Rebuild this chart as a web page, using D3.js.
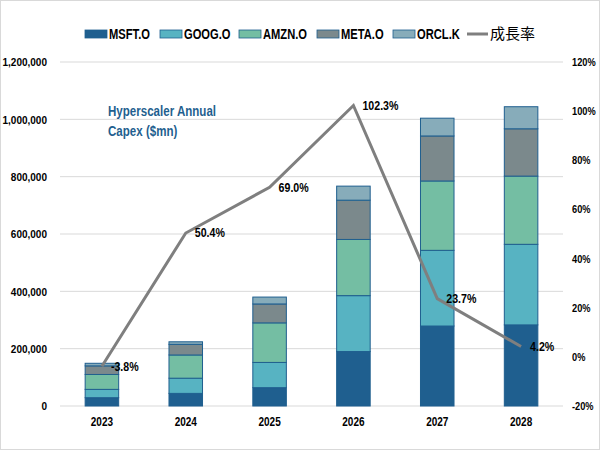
<!DOCTYPE html>
<html lang="ja">
<head>
  <meta charset="UTF-8">
  <title>Hyperscaler Annual Capex</title>
  <script src="https://d3js.org/d3.v7.min.js"></script>
  <style>
    body { margin: 0; background: #fff; }
    svg { display: block; }
    text { font-family: "Liberation Sans", Arial, sans-serif; font-weight: bold; }
    .cjk { font-family: "Noto Sans CJK JP", sans-serif; font-weight: normal; }
  </style>
</head>
<body>
  <svg id="chart" width="600" height="450"></svg>
  <script>
    // Data ($mn)
    const years = ["2023", "2024", "2025", "2026", "2027", "2028"];
    const companies = ["MSFT.O", "GOOG.O", "AMZN.O", "META.O", "ORCL.K"];
    const msft = [29000, 44000, 64000, 190000, 279000, 283000];
    const goog = [29000, 53000, 88000, 195000, 264000, 281000];
    const amzn = [52000, 81000, 138000, 196000, 242000, 238000];
    const meta = [30000, 37000, 66000, 137000, 157000, 165000];
    const orcl = [9000, 9000, 24000, 49000, 62000, 77000];
    const growth = [-3.8, 50.4, 69.0, 102.3, 23.7, 4.2];
    const leftTicks = [0, 200000, 400000, 600000, 800000, 1000000, 1200000];
    const rightTicks = [-20, 0, 20, 40, 60, 80, 100, 120];
    const colors = ["#1f5f8f", "#57b3c2", "#74bea3", "#7b898c", "#87acba"];

    // squeeze text horizontally to mimic the condensed face of the original
    function condense(sel, k) {
      sel.each(function() {
        const w = this.getComputedTextLength();
        d3.select(this).attr("textLength", w * k).attr("lengthAdjust", "spacingAndGlyphs");
      });
    }

    const svg = d3.select("#chart");
    const margin = {top: 62, right: 37, bottom: 44, left: 60};
    const width = 600 - margin.left - margin.right;
    const height = 450 - margin.top - margin.bottom;

    // outer border
    svg.append("rect")
       .attr("x", 0.5).attr("y", 0.5)
       .attr("width", 599).attr("height", 449)
       .attr("fill", "none").attr("stroke", "#d9d9d9");

    const g = svg.append("g")
                 .attr("transform", `translate(${margin.left},${margin.top})`);

    const x = d3.scaleBand().domain(years).range([0, width]).paddingInner(0.6).paddingOuter(0.3);
    const y = d3.scaleLinear().domain([0, 1200000]).range([height, 0]);
    const y2 = d3.scaleLinear().domain([-20, 120]).range([height, 0]);

    // gridlines
    g.append("g")
     .selectAll("line")
     .data(leftTicks)
     .enter().append("line")
     .attr("x1", 0).attr("x2", width)
     .attr("y1", d => y(d)).attr("y2", d => y(d))
     .attr("stroke", "#d9d9d9").attr("stroke-width", 1);

    // left axis
    const yAxis = g.append("g")
      .call(d3.axisLeft(y).tickValues(leftTicks).tickFormat(d3.format(",")).tickSize(0).tickPadding(13));
    yAxis.select(".domain").remove();
    yAxis.selectAll("text").attr("font-size", 11.5).attr("font-family", null).attr("fill", "#000").call(condense, 0.87);

    // right axis
    const y2Axis = g.append("g")
      .attr("transform", `translate(${width},0)`)
      .call(d3.axisRight(y2).tickValues(rightTicks).tickFormat(d => d + "%").tickSize(0).tickPadding(9));
    y2Axis.select(".domain").remove();
    y2Axis.selectAll("text").attr("font-size", 11).attr("font-family", null).attr("fill", "#000").call(condense, 0.84);

    // x axis
    const xAxis = g.append("g")
      .attr("transform", `translate(0,${height})`)
      .call(d3.axisBottom(x).tickSize(0).tickPadding(11));
    xAxis.select(".domain").remove();
    xAxis.selectAll("text").attr("font-size", 12.5).attr("font-family", null).attr("fill", "#000").call(condense, 0.8);

    // stacked bars
    const table = years.map((yr, i) => ({
      year: yr,
      "MSFT.O": msft[i], "GOOG.O": goog[i], "AMZN.O": amzn[i], "META.O": meta[i], "ORCL.K": orcl[i]
    }));
    const stacked = d3.stack().keys(companies)(table);

    g.selectAll(".layer")
     .data(stacked)
     .enter().append("g")
     .attr("class", "layer")
     .attr("fill", (d, i) => colors[i])
     .selectAll("rect")
     .data(d => d)
     .enter().append("rect")
     .attr("x", d => x(d.data.year))
     .attr("y", d => y(d[1]))
     .attr("width", x.bandwidth())
     .attr("height", d => y(d[0]) - y(d[1]))
     .attr("stroke", "#1f5f8f")
     .attr("stroke-width", 1);

    // growth line
    const line = d3.line()
                   .x((d, i) => x(years[i]) + x.bandwidth() / 2)
                   .y(d => y2(d));
    g.append("path")
     .datum(growth)
     .attr("fill", "none")
     .attr("stroke", "#7f7f7f")
     .attr("stroke-width", 3)
     .attr("d", line);

    g.selectAll(".glabel")
     .data(growth)
     .enter().append("text")
     .attr("class", "glabel")
     .attr("x", (d, i) => x(years[i]) + x.bandwidth() / 2 + 9)
     .attr("y", d => y2(d))
     .attr("dy", "0.35em")
     .attr("font-size", 12.5)
     .attr("fill", "#000")
     .text(d => d.toFixed(1) + "%")
     .call(condense, 0.85);

    // title
    ["Hyperscaler Annual", "Capex ($mn)"].forEach((t, i) => {
      g.append("text")
        .attr("x", 48).attr("y", 54 + i * 20)
        .attr("font-size", 15)
        .attr("fill", "#1f5f8f")
        .text(t)
        .call(condense, 0.77);
    });

    // legend
    const legendX = [85, 160, 239, 317, 393];
    const legend = svg.append("g");
    companies.forEach((c, i) => {
      legend.append("rect")
        .attr("x", legendX[i]).attr("y", 30)
        .attr("width", 22).attr("height", 8)
        .attr("fill", colors[i])
        .attr("stroke", "#1f5f8f").attr("stroke-width", 0.8);
      legend.append("text")
        .attr("x", legendX[i] + 24).attr("y", 34)
        .attr("dy", "0.35em")
        .attr("font-size", 14.5)
        .attr("fill", "#000")
        .text(c)
        .call(condense, 0.77);
    });
    legend.append("line")
      .attr("x1", 467).attr("x2", 488)
      .attr("y1", 34).attr("y2", 34)
      .attr("stroke", "#7f7f7f").attr("stroke-width", 3);
    legend.append("text")
      .attr("class", "cjk")
      .attr("x", 490).attr("y", 34)
      .attr("dy", "0.35em")
      .attr("font-size", 15)
      .attr("fill", "#000")
      .text("成長率");
  </script>
</body>
</html>
